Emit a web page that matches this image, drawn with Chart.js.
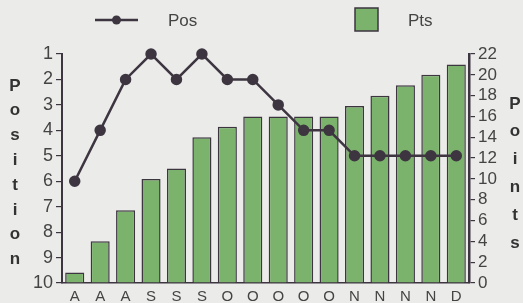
<!DOCTYPE html>
<html>
<head>
<meta charset="utf-8">
<script src="https://cdn.jsdelivr.net/npm/chart.js@4/dist/chart.umd.min.js"></script>
<style>
html,body{margin:0;padding:0;background:#ebebe9;}
#wrap{width:523px;height:303px;position:relative;}
</style>
</head>
<body>
<div id="wrap"><canvas id="c" width="523" height="303"></canvas></div>
<script>
const categories = ['A','A','A','S','S','S','O','O','O','O','O','N','N','N','N','D'];
const posValues = [6,4,2,1,2,1,2,2,3,4,4,5,5,5,5,5];
const ptsValues = [1,4,7,10,11,14,15,16,16,16,16,17,18,19,20,21];
const posTicks = [1,2,3,4,5,6,7,8,9,10];
const ptsTicks = [0,2,4,6,8,10,12,14,16,18,20,22];
const leftTitle = 'Position';
const rightTitle = 'Points';

const DARK = '#3d3540';
const GREEN = '#7cb36c';
const TXT = '#444';
const FONT = "'Liberation Sans', Arial, sans-serif";

const overlay = {
  id: 'overlay',
  afterDraw(chart) {
    const ctx = chart.ctx;
    ctx.save();
    const ds = chart.data.datasets;
    ctx.strokeStyle = ds[0].borderColor; ctx.lineWidth = 2.5;
    ctx.beginPath(); ctx.moveTo(95, 20); ctx.lineTo(138, 20); ctx.stroke();
    ctx.fillStyle = ds[0].pointBackgroundColor;
    ctx.beginPath(); ctx.arc(116.5, 20, 4.5, 0, Math.PI*2); ctx.fill();
    ctx.font = '17px ' + FONT; ctx.fillStyle = TXT; ctx.textBaseline = 'middle'; ctx.textAlign = 'left';
    ctx.fillText(ds[0].label, 168, 21);
    ctx.fillStyle = ds[1].backgroundColor; ctx.strokeStyle = DARK; ctx.lineWidth = 1.5;
    ctx.fillRect(355, 8, 23, 23); ctx.strokeRect(355, 8, 23, 23);
    ctx.fillStyle = TXT; ctx.fillText(ds[1].label, 408, 21);
    ctx.font = 'bold 17px ' + FONT; ctx.fillStyle = '#333'; ctx.textAlign = 'center';
    [...leftTitle].forEach((ch, i) => ctx.fillText(ch, 15, 86 + i * 24.8));
    [...rightTitle].forEach((ch, i) => ctx.fillText(ch, 515, 104 + i * 27.8));
    ctx.restore();
  }
};

new Chart(document.getElementById('c'), {
  data: {
    labels: categories,
    datasets: [
      { type: 'line', label: 'Pos', data: posValues, yAxisID: 'y', order: 0, clip: false,
        borderColor: DARK, borderWidth: 2.5, pointBackgroundColor: DARK, pointBorderColor: DARK,
        pointRadius: 4.5, tension: 0 },
      { type: 'bar', label: 'Pts', data: ptsValues, yAxisID: 'y2', order: 1,
        backgroundColor: GREEN, borderColor: DARK, borderWidth: 1.5,
        barPercentage: 0.75, categoryPercentage: 1.0 }
    ]
  },
  options: {
    responsive: false, animation: false,
    layout: { padding: { top: 54, left: 0, right: 0, bottom: 0 } },
    plugins: { legend: { display: false }, tooltip: { enabled: false } },
    scales: {
      x: {
        offset: true,
        grid: { display: false, drawTicks: false },
        border: { display: true, color: DARK, width: 1.5 },
        ticks: { color: TXT, font: { family: FONT, size: 15 }, padding: 5, maxRotation: 0, autoSkip: false },
        afterFit(s) { s.height = 20; }
      },
      y: {
        position: 'left', reverse: true, min: 1, max: 10,
        afterBuildTicks(s) { s.ticks = posTicks.map(v => ({ value: v })); },
        grid: { drawOnChartArea: false, drawTicks: true, tickLength: 6, color: DARK, lineWidth: 1.2 },
        border: { display: true, color: DARK, width: 2 },
        ticks: { color: TXT, font: { family: FONT, size: 18 }, padding: 3, autoSkip: false },
        afterFit(s) { s.width = 62; }
      },
      y2: {
        position: 'right', min: 0, max: 22,
        afterBuildTicks(s) { s.ticks = ptsTicks.map(v => ({ value: v })); },
        grid: { drawOnChartArea: false, drawTicks: true, tickLength: 6, color: DARK, lineWidth: 1.2 },
        border: { display: true, color: DARK, width: 2.5 },
        ticks: { color: TXT, font: { family: FONT, size: 17 }, padding: 3, autoSkip: false },
        afterFit(s) { s.width = 54; }
      }
    }
  },
  plugins: [overlay]
});
</script>
</body>
</html>
